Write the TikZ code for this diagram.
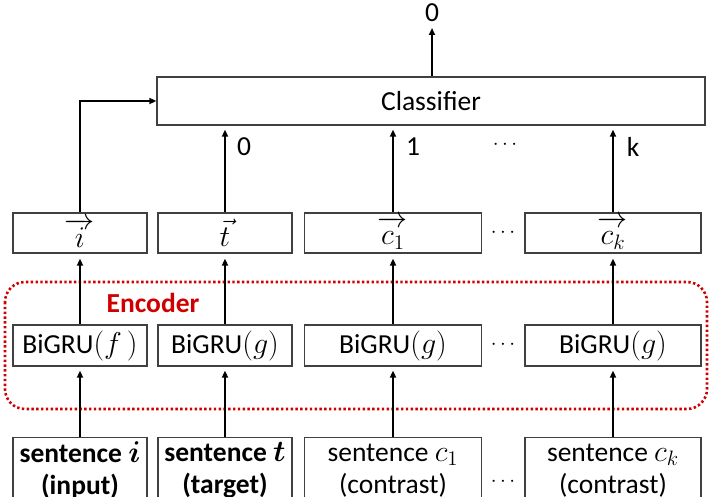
\documentclass[tikz,border=0pt]{standalone}
\usepackage{graphicx}
\usepackage{bm}
\usepackage{fontspec}
\setmainfont{Carlito}
\usetikzlibrary{arrows.meta}
\definecolor{encred}{HTML}{D00000}
\definecolor{boxgray}{HTML}{404040}
\newcommand\mth[1]{{\fontsize{20.74}{24}\selectfont\scalebox{1.45}{$#1$}}}
\tikzset{
  box/.style={draw=boxgray, line width=1.3pt, fill=white, inner sep=0pt, font=\fontsize{27.5}{32}\selectfont},
  vecbox/.style={box, minimum height=40pt},
  grubox/.style={box, minimum height=41pt},
  sentbox/.style={box, minimum height=66pt, anchor=north, align=center},
  arr/.style={line width=1.8pt, -{Triangle[length=7pt,width=6pt]}},
  lbl/.style={font=\fontsize{27.5}{30}\selectfont, inner sep=0pt},
  dotsl/.style={font=\fontsize{20}{22}\selectfont, inner sep=0pt},
}
\begin{document}
\begin{tikzpicture}[x=1pt,y=-1pt]
\useasboundingbox (0,0) rectangle (709,497);
% encoder region
\draw[encred, line width=2.6pt, dash pattern=on 2.4pt off 2.4pt, rounded corners=20pt] (5,282) rectangle (707,409);
\node[text=encred, font=\fontsize{27.5}{30}\selectfont\bfseries, inner sep=0pt] (enc) at (153,303) {Encoder};
% classifier
\node[box, minimum width=548pt, minimum height=48pt] (cls) at (431,101) {Classifier};
% vector boxes
\node[vecbox, minimum width=134pt] (vi) at (80,233) {\mth{\overrightarrow{\vphantom{t}\,i\,}}};
\node[vecbox, minimum width=134pt] (vt) at (225,233) {\mth{\vec{t}}};
\node[vecbox, minimum width=177pt] (vc1) at (393,233) {\mth{\overrightarrow{\vphantom{t}c_1}}};
\node[vecbox, minimum width=176pt] (vck) at (613,233) {\mth{\overrightarrow{\vphantom{t}c_k}}};
% bigru boxes
\node[grubox, minimum width=134pt] (gi) at (80,345.5) {BiGRU\mth{(f\,)}};
\node[grubox, minimum width=134pt] (gt) at (225,345.5) {BiGRU\mth{(g)}};
\node[grubox, minimum width=177pt] (gc1) at (393,345.5) {BiGRU\mth{(g)}};
\node[grubox, minimum width=176pt] (gck) at (613,345.5) {BiGRU\mth{(g)}};
% sentence boxes
\node[sentbox, minimum width=134pt] (si) at (80,437) {\bfseries sentence \mth{\bm{i}}\\\bfseries (input)};
\node[sentbox, minimum width=134pt] (st) at (225,437) {\bfseries sentence \mth{\bm{t}}\\\bfseries (target)};
\node[sentbox, minimum width=177pt] (sc1) at (393,437) {sentence \mth{c_1}\\(contrast)};
\node[sentbox, minimum width=176pt] (sck) at (613,437) {sentence \mth{c_k}\\(contrast)};
% dots
\node[dotsl] (d1) at (505,145) {$\cdots$};
\node[dotsl] (d2) at (503,233) {$\cdots$};
\node[dotsl] (d3) at (503,345) {$\cdots$};
\node[dotsl] (d4) at (503,482) {$\cdots$};
% labels
\node[lbl] (out) at (432,13) {0};
\node[lbl] (l0) at (244,147) {0};
\node[lbl] (l1) at (413,147) {1};
\node[lbl] (lk) at (633,147) {k};
\coordinate (outtip) at (432,28);
% arrows sentence -> bigru
\draw[arr, shorten >=4pt] (si.north) -- (gi.south);
\draw[arr, shorten >=4pt] (st.north) -- (gt.south);
\draw[arr, shorten >=4pt] (sc1.north) -- (gc1.south);
\draw[arr, shorten >=4pt] (sck.north) -- (gck.south);
% bigru -> vector
\draw[arr, shorten >=5pt] (gi.north) -- (vi.south);
\draw[arr, shorten >=5pt] (gt.north) -- (vt.south);
\draw[arr, shorten >=5pt] (gc1.north) -- (vc1.south);
\draw[arr, shorten >=5pt] (gck.north) -- (vck.south);
% vector -> classifier
\draw[arr] (vi.north) |- (cls.west);
\draw[arr, shorten >=4pt] (vt.north) -- (vt.north |- cls.south);
\draw[arr, shorten >=4pt] (vc1.north) -- (vc1.north |- cls.south);
\draw[arr, shorten >=4pt] (vck.north) -- (vck.north |- cls.south);
% classifier output
\draw[arr] (cls.north -| outtip) -- (outtip);
\end{tikzpicture}
\end{document}
